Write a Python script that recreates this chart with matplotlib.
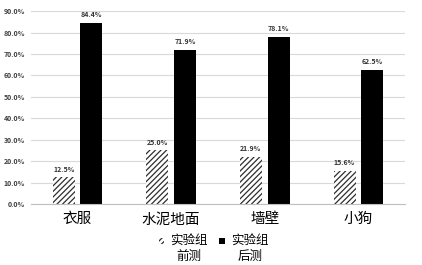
import numpy as np
import matplotlib
matplotlib.use("Agg")
import matplotlib.pyplot as plt
import matplotlib.patches as mpatches
from matplotlib.legend_handler import HandlerPatch
from matplotlib.ticker import PercentFormatter

plt.rcParams['font.family'] = ['Noto Sans CJK SC', 'DejaVu Sans']
plt.rcParams['hatch.linewidth'] = 0.9

# === Data ===
categories = ["衣服", "水泥地面", "墙壁", "小狗"]
pre_test = [12.5, 25.0, 21.9, 15.6]
post_test = [84.4, 71.9, 78.1, 62.5]
series_names = ["实验组\n前测", "实验组\n后测"]


# legend marker sits next to the first line of the two-line label
def top_square(legend, orig_handle, xdescent, ydescent, width, height, fontsize):
    return mpatches.Rectangle((-xdescent, -ydescent + 0.62 * fontsize), width, height)


# === Plot ===
fig = plt.figure(figsize=(4.22, 2.65), dpi=100)
ax = fig.add_axes([0.073, 0.23, 0.887, 0.728])

x = np.arange(len(categories))
w = 0.235
b1 = ax.bar(x - 0.147, pre_test, w, color="white", edgecolor="#2e2e2e",
            hatch="//////", linewidth=0, zorder=2)
b2 = ax.bar(x + 0.147, post_test, w, color="black", zorder=2)

for bars in (b1, b2):
    for r in bars:
        ax.text(r.get_x() + r.get_width() / 2, r.get_height() + 2.2,
                f"{r.get_height():.1f}%", ha="center", va="bottom",
                fontsize=5, fontweight="bold", color="#333333")

ax.set_ylim(0, 90)
ax.set_xlim(-0.5, len(categories) - 0.5)
ax.set_yticks(np.arange(0, 91, 10))
ax.yaxis.set_major_formatter(PercentFormatter(decimals=1))
ax.grid(axis="y", color="#d9d9d9", linewidth=0.8, zorder=0)
ax.set_axisbelow(True)
for s in ("top", "right", "left"):
    ax.spines[s].set_visible(False)
ax.spines["bottom"].set_color("#bfbfbf")
ax.tick_params(axis="y", length=0, labelsize=5, pad=4)
ax.tick_params(axis="x", length=0, labelsize=10.5, pad=6)
for t in ax.get_yticklabels():
    t.set_fontweight("bold")
    t.set_color("#404040")
ax.set_xticks(x)
ax.set_xticklabels(categories)

leg = fig.legend([b1.patches[0], b2.patches[0]], series_names,
                 loc="lower center", bbox_to_anchor=(0.506, -0.035),
                 ncol=2, frameon=False, fontsize=9, handlelength=0.45,
                 handleheight=0.45, handletextpad=0.5, columnspacing=0.9,
                 handler_map={mpatches.Rectangle: HandlerPatch(patch_func=top_square)})
for t in leg.get_texts():
    t.set_multialignment("center")
    t.set_linespacing(1.35)

plt.savefig("out.png", dpi=100)
plt.close()
